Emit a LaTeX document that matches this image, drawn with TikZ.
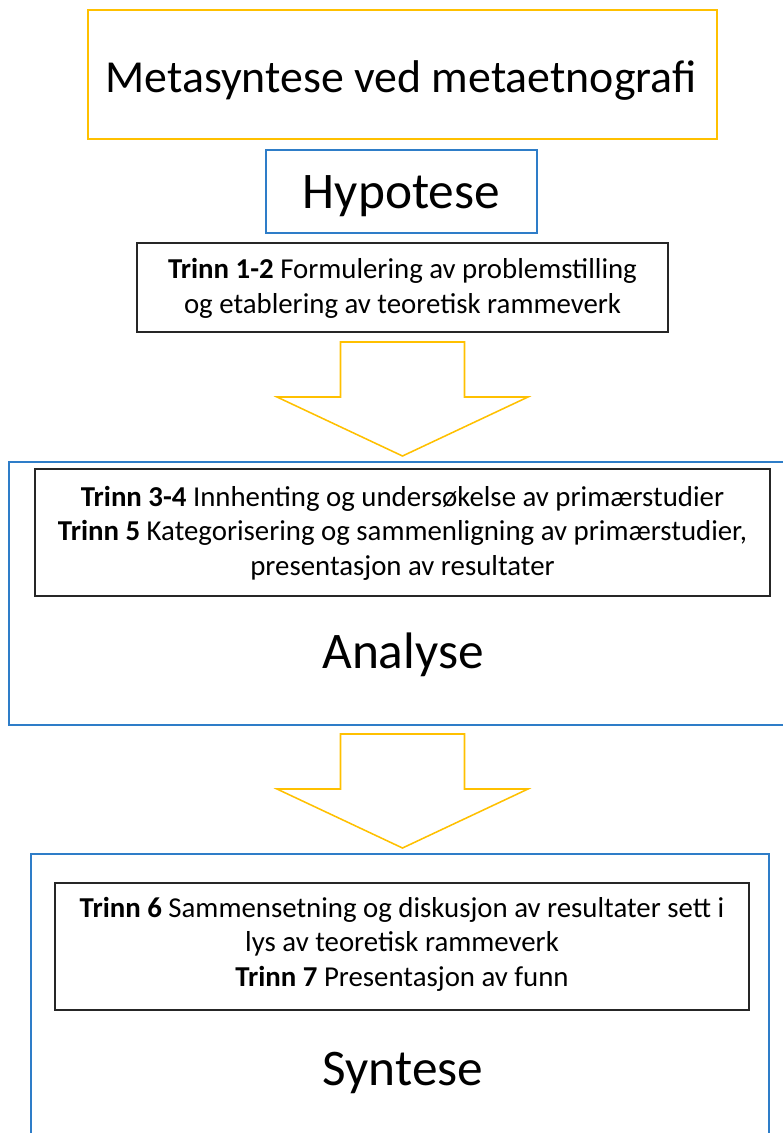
\documentclass[tikz,border=0pt]{standalone}
\usepackage{fontspec}
\setmainfont{Carlito}
\definecolor{gold}{RGB}{255,192,0}
\definecolor{blueline}{RGB}{46,125,200}

% block arrow pointing down: x of centre, y of top (pixel units)
\newcommand{\downarrowshape}[2]{%
  \draw[arrowline] (#1-62,#2) -- (#1+62,#2) -- (#1+62,#2+55) -- (#1+125.5,#2+55)
    -- (#1,#2+114) -- (#1-125.5,#2+55) -- (#1-62,#2+55) -- cycle;}

\begin{document}
\begin{tikzpicture}[
    x=0.025cm, y=-0.025cm,
    every node/.style={align=center, inner sep=0pt},
    titlebox/.style={rectangle, draw=gold, line width=1.1pt, minimum width=15.725cm, minimum height=3.225cm},
    phasebox/.style={rectangle, draw=blueline, line width=1.1pt},
    stepbox/.style={rectangle, draw=black!85, line width=1.1pt},
    steptext/.style={anchor=base, font=\fontsize{20.5}{24.2}\selectfont},
    bigtext/.style={anchor=base, font=\fontsize{36.5}{44}\selectfont},
    arrowline/.style={draw=gold, line width=1.1pt, line join=miter}
  ]
  \useasboundingbox (0,0) rectangle (783,1133);
  \clip (0,0) rectangle (783,1133);

  \node[titlebox] (title) at (402.5,74.5) {};
  \node[anchor=base, font=\fontsize{32.6}{40}\selectfont] (titletext) at (401,92) {Metasyntese ved metaetnografi};
  \node[phasebox, minimum width=6.775cm, minimum height=2.075cm] (hyp) at (401.5,191.5) {};
  \node[bigtext] (hyptext) at (401.5,208) {Hypotese};

  % text nodes sit on the baseline of their last line
  \node[stepbox, minimum width=13.275cm, minimum height=2.225cm] (step12) at (402.5,287.5) {};
  \node[steptext, font=\fontsize{20.5}{24.8}\selectfont] (step12text) at (402.5,313)
    {\textbf{Trinn 1-2} Formulering av problemstilling\\og etablering av teoretisk rammeverk};

  \downarrowshape{402.5}{342}

  \node[phasebox, minimum width=19.65cm, minimum height=6.575cm] (analyse) at (402,593.5) {};
  \node[stepbox, minimum width=18.375cm, minimum height=3.175cm] (step35) at (402.5,532.5) {};
  \node[steptext] (step35text) at (402.5,575)
    {\textbf{Trinn 3-4} Innhenting og undersøkelse av primærstudier\\
     \textbf{Trinn 5} Kategorisering og sammenligning av primærstudier,\\
     presentasjon av resultater};
  \node[bigtext] (analysetext) at (403,668) {Analyse};

  \downarrowshape{402.5}{734}

  \node[phasebox, minimum width=18.45cm, minimum height=7.275cm] (syntese) at (400,999.5) {};
  \node[stepbox, minimum width=17.35cm, minimum height=3.175cm] (step67) at (402,946.5) {};
  \node[steptext] (step67text) at (402,986)
    {\textbf{Trinn 6} Sammensetning og diskusjon av resultater sett i\\
     lys av teoretisk rammeverk\\
     \textbf{Trinn 7} Presentasjon av funn};
  \node[bigtext] (syntesetext) at (403,1085) {Syntese};
\end{tikzpicture}
\end{document}
